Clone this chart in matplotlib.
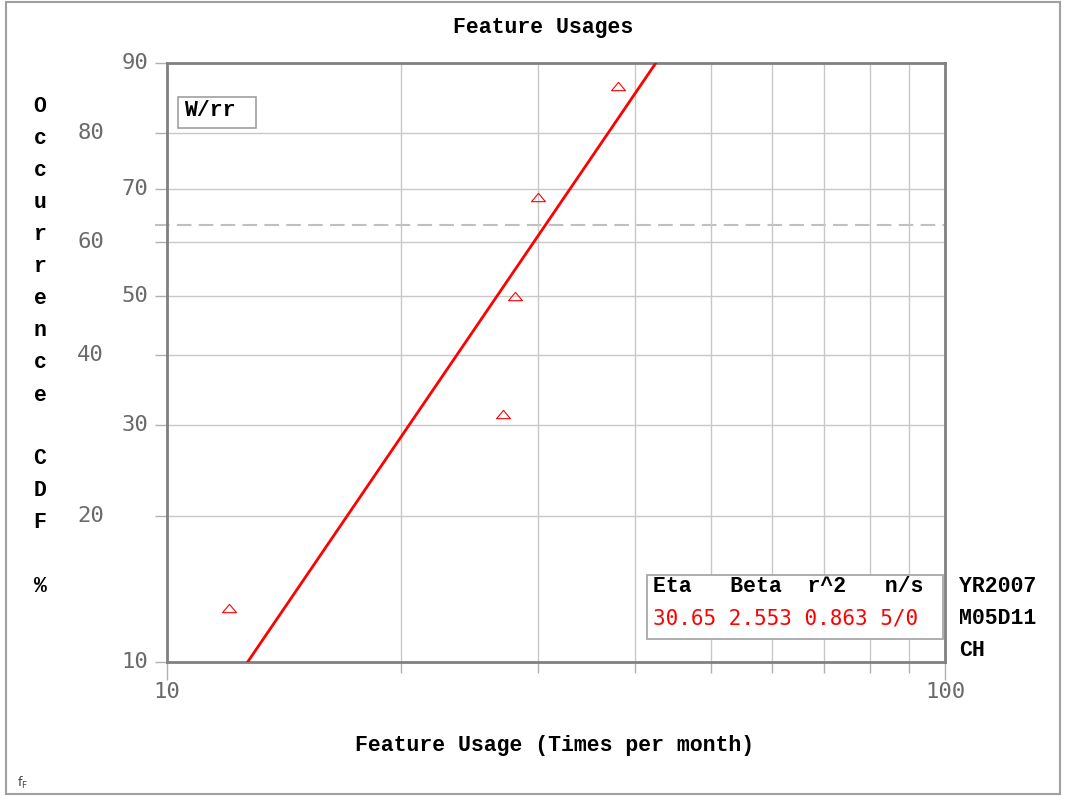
import numpy as np
import matplotlib
matplotlib.use('Agg')
import matplotlib.pyplot as plt
from matplotlib.patches import Rectangle
from matplotlib.path import Path
from matplotlib.ticker import NullLocator, FixedLocator

# data
times = [12.0, 27.0, 28.0, 30.0, 38.0]          # feature usage (times per month)
ranks = [12.96, 31.48, 50.0, 68.52, 87.04]      # median ranks, %
eta = 30.65
beta = 2.553
r2 = 0.863
n_s = '5/0'
ytick_vals = [10, 20, 30, 40, 50, 60, 70, 80, 90]
xmajor = [10, 100]
xminor = [20, 30, 40, 50, 60, 70, 80, 90]
stamp_lines = ['YR2007', 'M05D11', 'CH']

W, H = 1066, 796
BOLD = dict(family='Liberation Mono', weight='bold', size=15.5, color='black')
TICKF = dict(family='DejaVu Sans Mono', size=16, color='#6a6a6a')


def fx(px):
    return px / W


def fy(py):
    return 1 - py / H


def weib(p):
    p = np.clip(np.asarray(p, dtype=float), 1e-6, 100 - 1e-6)
    return np.log(-np.log(1 - p / 100.0))


def weib_inv(w):
    return 100.0 * (1 - np.exp(-np.exp(w)))


fig = plt.figure(figsize=(W / 100, H / 100), dpi=100)
ax = fig.add_axes([fx(167), fy(662), fx(945) - fx(167), fy(63) - fy(662)])
ax.set_xscale('log')
ax.set_yscale('function', functions=(weib, weib_inv))
ax.set_xlim(10, 100)
ax.set_ylim(10, 90)

ax.xaxis.set_major_locator(FixedLocator(xmajor))
ax.xaxis.set_minor_locator(FixedLocator(xminor))
ax.yaxis.set_major_locator(FixedLocator(ytick_vals))
ax.yaxis.set_minor_locator(NullLocator())
ax.tick_params(which='both', labelbottom=False, labelleft=False, colors='#b0b0b0')
ax.tick_params(axis='x', which='major', length=13, width=1)
ax.tick_params(axis='x', which='minor', length=8, width=1)
ax.tick_params(axis='y', which='major', length=9, width=1)
ax.grid(True, which='both', color='#c8c8c8', lw=1)
for sp in ax.spines.values():
    sp.set_color('#808080')
    sp.set_linewidth(2)

# tick labels, y ones staggered
for i, v in enumerate(ytick_vals):
    xpos = -0.0244 if i % 2 == 0 else -0.081
    ax.text(xpos, v, str(v), transform=ax.get_yaxis_transform(),
            ha='right', va='center', **TICKF)
for v in xmajor:
    ax.text(v, -0.05, str(v), transform=ax.get_xaxis_transform(),
            ha='center', va='center', **TICKF)

# characteristic life level (63.2 %)
ax.axhline(100 * (1 - np.exp(-1)), xmin=-0.016, xmax=1, clip_on=False,
           color='#c0c0c0', lw=1.5, ls=(0, (7, 3.5)), zorder=1)

# fitted weibull line
line_p = np.array(ax.get_ylim())
line_x = eta * (-np.log(1 - line_p / 100.0)) ** (1 / beta)
ax.plot(line_x, line_p, color='red', lw=2, zorder=3)

tri = Path([(-1, -0.6), (1, -0.6), (0, 0.6), (-1, -0.6)],
           [Path.MOVETO, Path.LINETO, Path.LINETO, Path.CLOSEPOLY])
ax.plot(times, ranks, ls='none', marker=tri, ms=10, mfc='none', mec='red',
        mew=0.8, zorder=4)

# titles
fig.text(fx(543), fy(28), 'Feature Usages', ha='center', va='center', **BOLD)
fig.text(fx(555), fy(746), 'Feature Usage (Times per month)',
         ha='center', va='center', **BOLD)
for i, ch in enumerate('Occurrence CDF %'):
    fig.text(fx(40), fy(107 + 32 * i), ch, ha='center', va='center', **BOLD)

# W/rr box
fig.add_artist(Rectangle((fx(178), fy(128)), fx(256) - fx(178), fy(97) - fy(128),
                         transform=fig.transFigure, fc='white', ec='#a0a0a0',
                         lw=1.2, zorder=5))
fig.text(fx(184), fy(111), 'W/rr', ha='left', va='center', zorder=6, **BOLD)

# results box
fig.add_artist(Rectangle((fx(647), fy(639)), fx(943) - fx(647), fy(575) - fy(639),
                         transform=fig.transFigure, fc='white', ec='#a0a0a0',
                         lw=1.2, zorder=5))
fig.text(fx(653), fy(587), 'Eta   Beta  r^2   n/s', ha='left', va='center',
         zorder=6, **BOLD)
fig.text(fx(653), fy(619), f'{eta:.2f} {beta:.3f} {r2:.3f} {n_s}', ha='left',
         va='center', zorder=6, family='DejaVu Sans Mono', size=15, color='red')
for i, s in enumerate(stamp_lines):
    fig.text(fx(959), fy(587 + 32 * i), s, ha='left', va='center', **BOLD)

fig.text(fx(17), fy(783), r'$\mathregular{f_F}$', ha='left', va='center',
         size=9, color='#444444')

# outer frame
fig.add_artist(Rectangle((fx(6), fy(794)), fx(1060) - fx(6), fy(2) - fy(794),
                         transform=fig.transFigure, fill=False, ec='#a0a0a0',
                         lw=1.5))

fig.savefig('out.png', dpi=100)
